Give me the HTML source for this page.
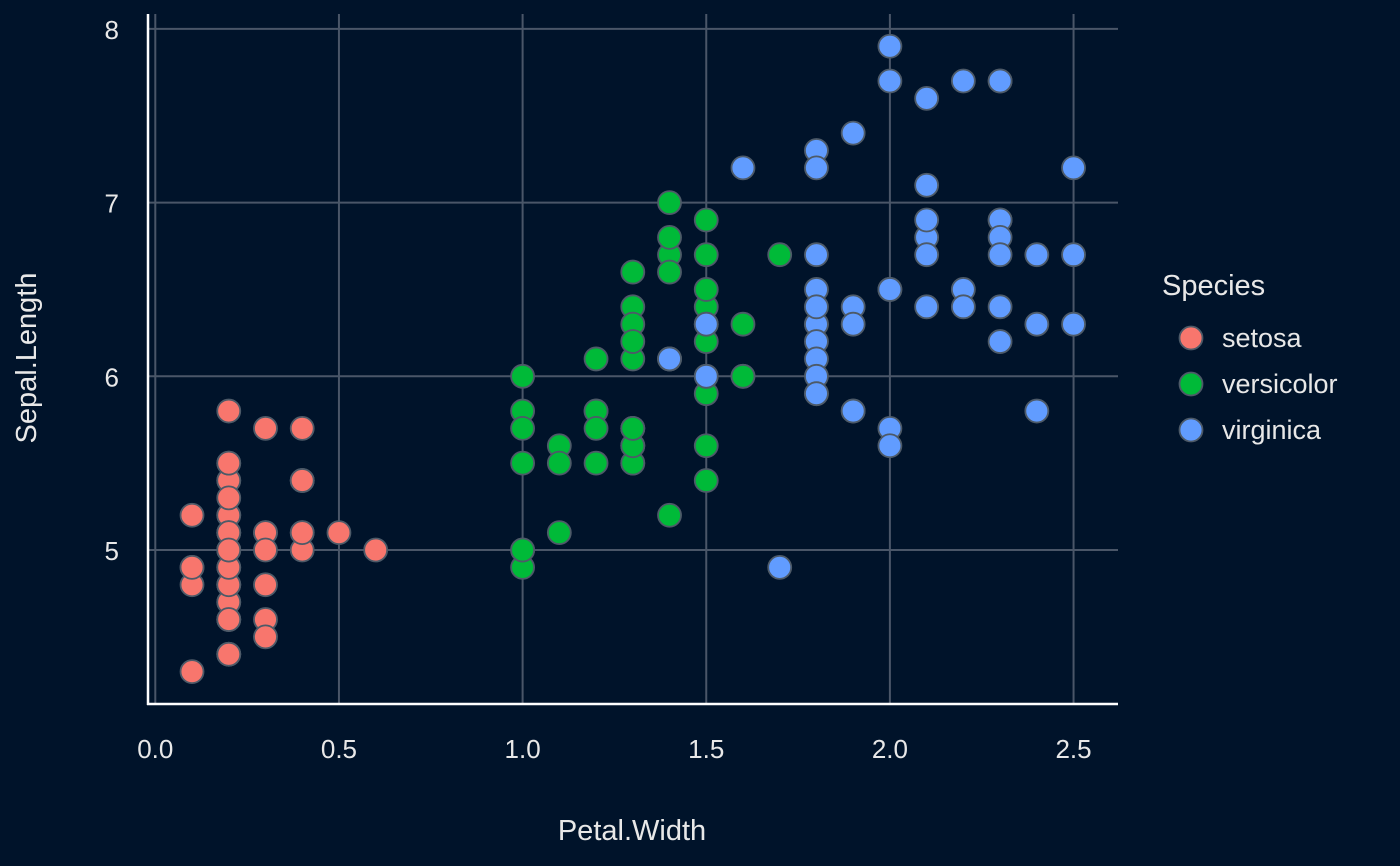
<!DOCTYPE html>
<html><head><meta charset="utf-8"><style>
html,body{margin:0;padding:0;background:#00132a;}
svg{display:block;font-family:"Liberation Sans","DejaVu Sans",sans-serif;}
</style></head><body>
<svg id="chart" width="1400" height="866">
<rect x="0" y="0" width="1400" height="866" fill="#00132a"/>
<g id="grid"></g>
<g id="points"></g>
<g id="axes"></g>
<text x="632" y="840" font-size="29" fill="#e8e8e8" text-anchor="middle">Petal.Width</text>
<text transform="translate(36,358) rotate(-90)" font-size="29" fill="#e8e8e8" text-anchor="middle">Sepal.Length</text>
<g id="legend"></g>
</svg>
<script>
const species = ["setosa","versicolor","virginica"];
const colors = ["#F8766D","#00BA38","#619CFF"];
const setosaSL = [5.1,4.9,4.7,4.6,5.0,5.4,4.6,5.0,4.4,4.9,5.4,4.8,4.8,4.3,5.8,5.7,5.4,5.1,5.7,5.1,5.4,5.1,4.6,5.1,4.8,5.0,5.0,5.2,5.2,4.7,4.8,5.4,5.2,5.5,4.9,5.0,5.5,4.9,4.4,5.1,5.0,4.5,4.4,5.0,5.1,4.8,5.1,4.6,5.3,5.0];
const setosaPW = [0.2,0.2,0.2,0.2,0.2,0.4,0.3,0.2,0.2,0.1,0.2,0.2,0.1,0.1,0.2,0.4,0.4,0.3,0.3,0.3,0.2,0.4,0.2,0.5,0.2,0.2,0.4,0.2,0.2,0.2,0.2,0.4,0.1,0.2,0.2,0.2,0.2,0.1,0.2,0.2,0.3,0.3,0.2,0.6,0.4,0.3,0.2,0.2,0.2,0.2];
const versiSL = [7.0,6.4,6.9,5.5,6.5,5.7,6.3,4.9,6.6,5.2,5.0,5.9,6.0,6.1,5.6,6.7,5.6,5.8,6.2,5.6,5.9,6.1,6.3,6.1,6.4,6.6,6.8,6.7,6.0,5.7,5.5,5.5,5.8,6.0,5.4,6.0,6.7,6.3,5.6,5.5,5.5,6.1,5.8,5.0,5.6,5.7,5.7,6.2,5.1,5.7];
const versiPW = [1.4,1.5,1.5,1.3,1.5,1.3,1.6,1.0,1.3,1.4,1.0,1.5,1.0,1.4,1.3,1.4,1.5,1.0,1.5,1.1,1.8,1.3,1.5,1.2,1.3,1.4,1.4,1.7,1.5,1.0,1.1,1.0,1.2,1.6,1.5,1.6,1.5,1.3,1.3,1.3,1.2,1.4,1.2,1.0,1.3,1.2,1.3,1.3,1.1,1.3];
const virgSL = [6.3,5.8,7.1,6.3,6.5,7.6,4.9,7.3,6.7,7.2,6.5,6.4,6.8,5.7,5.8,6.4,6.5,7.7,7.7,6.0,6.9,5.6,7.7,6.3,6.7,7.2,6.2,6.1,6.4,7.2,7.4,7.9,6.4,6.3,6.1,7.7,6.3,6.4,6.0,6.9,6.7,6.9,5.8,6.8,6.7,6.7,6.3,6.5,6.2,5.9];
const virgPW = [2.5,1.9,2.1,1.8,2.2,2.1,1.7,1.8,1.8,2.5,2.0,1.9,2.1,2.0,2.4,2.3,1.8,2.2,2.3,1.5,2.3,2.0,2.0,1.8,2.1,1.8,1.8,1.8,2.1,1.6,1.9,2.0,2.2,1.5,1.4,2.3,2.4,1.8,1.8,2.1,2.4,2.3,1.9,2.3,2.5,2.3,1.9,2.0,2.3,1.8];
const xTicks = [0,0.5,1,1.5,2,2.5];
const xTickLabels = ["0.0","0.5","1.0","1.5","2.0","2.5"];
const yTicks = [5,6,7,8];
const yTickLabels = ["5","6","7","8"];

const NS="http://www.w3.org/2000/svg";
const X = v => 155.3 + v*367.3;
const Y = v => 550 - (v-5)*173.7;
function mk(tag, attrs, parent){const e=document.createElementNS(NS,tag);for(const k in attrs)e.setAttribute(k,attrs[k]);parent.appendChild(e);return e;}
const grid=document.getElementById('grid'), axes=document.getElementById('axes'), pts=document.getElementById('points'), leg=document.getElementById('legend');
xTicks.forEach((t,i)=>{
  const l=mk('line',{x1:X(t),x2:X(t),y1:14,y2:704,stroke:"#4a5668","stroke-width":2},grid);
  
  
  const tx=mk('text',{x:X(t),y:758,"font-size":26,fill:"#e8e8e8","text-anchor":"middle"},axes);
  tx.textContent=xTickLabels[i];
  
  
});
yTicks.forEach((t,i)=>{
  const l=mk('line',{x1:148,x2:1118,y1:Y(t),y2:Y(t),stroke:"#4a5668","stroke-width":2},grid);
  
  
  const tx=mk('text',{x:119,y:Y(t)+10,"font-size":26,fill:"#e8e8e8","text-anchor":"end"},axes);
  tx.textContent=yTickLabels[i];
  
  
});
const ax1=mk('line',{x1:148,x2:148,y1:14,y2:705,stroke:"#ffffff","stroke-width":2.5},axes);


const ax2=mk('line',{x1:147,x2:1118,y1:704,y2:704,stroke:"#ffffff","stroke-width":2.5},axes);


const series=[[setosaPW,setosaSL],[versiPW,versiSL],[virgPW,virgSL]];
series.forEach((s,k)=>{
  s[0].forEach((pw,i)=>{
    const c=mk('circle',{cx:X(pw),cy:Y(s[1][i]),r:11.5,fill:colors[k],stroke:"#4d5a68","stroke-width":1.8},pts);
    
    
  });
});
const lt=mk('text',{x:1162,y:295,"font-size":29,fill:"#e8e8e8"},leg);
lt.textContent="Species";


species.forEach((sp,k)=>{
  const y=338+k*46;
  const c=mk('circle',{cx:1191,cy:y,r:11.5,fill:colors[k],stroke:"#4d5a68","stroke-width":1.8},leg);
  
  
  const t=mk('text',{x:1222,y:y+9,"font-size":27,fill:"#e8e8e8"},leg);
  t.textContent=sp;
  
  
});
</script>
</body></html>
